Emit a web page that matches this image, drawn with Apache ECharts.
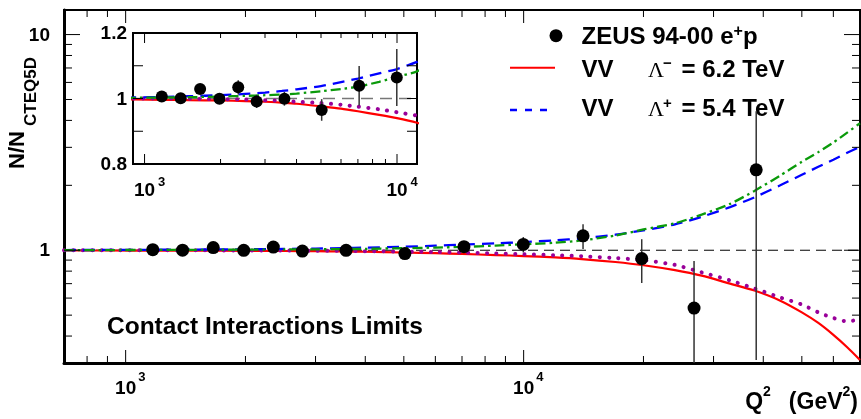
<!DOCTYPE html>
<html>
<head>
<meta charset="utf-8">
<script src="https://cdn.jsdelivr.net/npm/echarts@6/dist/echarts.min.js"></script>
<style>
  html, body { margin: 0; padding: 0; background: #fff; }
  #chart { width: 861px; height: 419px; }
</style>
</head>
<body>
<div id="chart"></div>
<script>
// ZEUS 94-00 e+p measured ratio
const dataQ2 = [1170, 1390, 1660, 1980, 2350, 2780, 3580, 5030, 7080, 9980, 14100, 19800, 26800, 38400];
const dataRatio = [1.006, 1.001, 1.029, 0.999, 1.034, 0.991, 0.999, 0.965, 1.039, 1.064, 1.166, 0.915, 0.539, 2.36];
const dataErr = [0.012, 0.013, 0.015, 0.016, 0.022, 0.02, 0.021, 0.033, 0.06, 0.087, 0.153, 0.21, 0.353, 2.05];

// model curves
const curveQ2 = [700, 900, 1200, 1500, 2000, 2500, 3000, 3500, 4000, 5000, 6000, 7000, 8500, 10000, 12000,
  14000, 17000, 20000, 24000, 28000, 33000, 38000, 44000, 50000, 55000, 60000, 65000, 70000];
const vvMinus = [0.997, 0.997, 0.996, 0.995, 0.994, 0.992, 0.990, 0.987, 0.984, 0.976, 0.969, 0.961, 0.950, 0.940, 0.926,
  0.910, 0.882, 0.852, 0.808, 0.762, 0.700, 0.650, 0.585, 0.515, 0.460, 0.405, 0.355, 0.310];
const vvPlus = [1.002, 1.003, 1.005, 1.007, 1.010, 1.014, 1.018, 1.023, 1.028, 1.038, 1.050, 1.061, 1.077, 1.090, 1.112,
  1.135, 1.180, 1.237, 1.318, 1.429, 1.585, 1.758, 1.995, 2.239, 2.438, 2.630, 2.830, 3.020];
const greenCurve = [1.001, 1.002, 1.003, 1.004, 1.006, 1.008, 1.010, 1.012, 1.015, 1.022, 1.029, 1.036, 1.051, 1.066, 1.083,
  1.110, 1.170, 1.248, 1.334, 1.462, 1.640, 1.884, 2.213, 2.570, 2.850, 3.160, 3.510, 3.880];
const purpleCurve = [1.000, 1.000, 1.000, 0.999, 0.998, 0.997, 0.995, 0.993, 0.990, 0.986, 0.981, 0.975, 0.967, 0.958, 0.948,
  0.938, 0.920, 0.899, 0.855, 0.790, 0.725, 0.665, 0.605, 0.560, 0.515, 0.485, 0.468, 0.478];

// axis ranges and ticks
const mainX = [700, 70000];
const mainY = [0.3, 13];
const insetX = [900, 12000];
const insetY = [0.8, 1.2];
const refLevel = 1;

const mainXMajor = [1000, 10000];
const mainXMinor = [800, 900, 2000, 3000, 4000, 5000, 6000, 7000, 8000, 9000, 20000, 30000, 40000, 50000, 60000];
const mainYMajor = [1, 10];
const mainYMinor = [0.4, 0.5, 0.6, 0.7, 0.8, 0.9, 2, 3, 4, 5, 6, 7, 8, 9];
const insetXMajor = [1000, 10000];
const insetXMinor = [2000, 3000, 4000, 5000, 6000, 7000, 8000, 9000];
const insetYTicks = [0.9, 1.0, 1.1];

const xLabelBase = ['10', '10'];
const xLabelExp = ['3', '4'];
const mainYLabels = ['1', '10'];
const insetYLabelVals = [0.8, 1.0, 1.2];
const insetYLabels = ['0.8', '1', '1.2'];

const FONT = '"Liberation Sans", Arial, Helvetica, sans-serif';
const bold = (s) => 'bold ' + s + 'px ' + FONT;

function txt(x, y, text, font, align, extra) {
  return Object.assign({
    type: 'text', x: x, y: y,
    style: { text: text, font: font, fill: '#000', align: align || 'left', textAlign: align || 'left',
      verticalAlign: 'middle', textVerticalAlign: 'middle' }
  }, extra || {});
}

const mctx = document.createElement('canvas').getContext('2d');
function pieces(x0, list, alignRight) {
  const w = list.map(p => { mctx.font = p.font; return mctx.measureText(p.t).width + (p.gap || 0); });
  let x = alignRight ? x0 - w.reduce((a, b) => a + b, 0) : x0;
  return list.map((p, i) => { const el = txt(x, p.cy, p.t, p.font, 'left'); x += w[i]; return el; });
}

function seg(x1, y1, x2, y2, w) {
  return { type: 'line', shape: { x1: x1, y1: y1, x2: x2, y2: y2 }, style: { stroke: '#000', lineWidth: w || 1 } };
}

// ticks along x (bottom + mirrored top)
function xTicks(idx, vals, len, yr) {
  return {
    type: 'custom', xAxisIndex: idx, yAxisIndex: idx, silent: true, clip: false, z: 6,
    data: vals.map(v => [v, yr[0]]),
    renderItem: (p, api) => {
      const lo = api.coord([api.value(0), yr[0]]);
      const hi = api.coord([api.value(0), yr[1]]);
      return { type: 'group', children: [seg(lo[0], lo[1], lo[0], lo[1] - len), seg(hi[0], hi[1], hi[0], hi[1] + len)] };
    }
  };
}
// ticks along y (left + mirrored right)
function yTicks(idx, vals, len, xr) {
  return {
    type: 'custom', xAxisIndex: idx, yAxisIndex: idx, silent: true, clip: false, z: 6,
    data: vals.map(v => [xr[0], v]),
    renderItem: (p, api) => {
      const l = api.coord([xr[0], api.value(1)]);
      const r = api.coord([xr[1], api.value(1)]);
      return { type: 'group', children: [seg(l[0], l[1], l[0] + len, l[1]), seg(r[0], r[1], r[0] - len, r[1])] };
    }
  };
}
function xLabels(idx, vals, yr, dy, supDx, supDy) {
  return {
    type: 'custom', xAxisIndex: idx, yAxisIndex: idx, silent: true, clip: false, z: 6,
    data: vals.map(v => [v, yr[0]]),
    renderItem: (p, api) => {
      const c = api.coord([api.value(0), yr[0]]);
      return { type: 'group', children: [
        txt(c[0], c[1] + dy, xLabelBase[p.dataIndex], bold(19), 'center'),
        txt(c[0] + supDx, c[1] + supDy, xLabelExp[p.dataIndex], bold(13), 'left')
      ] };
    }
  };
}
function yLabels(idx, vals, labels, xr, dx, size) {
  return {
    type: 'custom', xAxisIndex: idx, yAxisIndex: idx, silent: true, clip: false, z: 6,
    data: vals.map(v => [xr[0], v]),
    renderItem: (p, api) => {
      const c = api.coord([xr[0], api.value(1)]);
      return txt(c[0] - dx, c[1] + 1, labels[p.dataIndex], bold(size), 'right');
    }
  };
}
function errorBars(idx, xr, yr) {
  return {
    type: 'custom', xAxisIndex: idx, yAxisIndex: idx, silent: true, clip: false, z: 8,
    data: dataQ2.map((q, i) => [q, dataRatio[i], dataErr[i]]),
    renderItem: (p, api) => {
      const q = api.value(0);
      if (q < xr[0] || q > xr[1]) return;
      const lo = Math.max(api.value(1) - api.value(2), yr[0]);
      const hi = Math.min(api.value(1) + api.value(2), yr[1]);
      if (hi <= lo) return;
      const a = api.coord([q, lo]), b = api.coord([q, hi]);
      return { type: 'line', shape: { x1: a[0], y1: a[1], x2: b[0], y2: b[1] }, style: { stroke: '#333', lineWidth: 1.5 } };
    }
  };
}
function curve(idx, vals, style) {
  return {
    type: 'line', xAxisIndex: idx, yAxisIndex: idx, showSymbol: false, silent: true, clip: true, z: 4,
    smooth: 0.25, data: curveQ2.map((q, i) => [q, vals[i]]), lineStyle: style
  };
}
function refLine(idx, xr, style) {
  return {
    type: 'line', xAxisIndex: idx, yAxisIndex: idx, showSymbol: false, silent: true, clip: true, z: 3,
    data: [[xr[0], refLevel], [xr[1], refLevel]], lineStyle: style
  };
}
function points(idx, size) {
  return {
    type: 'scatter', xAxisIndex: idx, yAxisIndex: idx, symbol: 'circle', symbolSize: size, clip: true, z: 9,
    itemStyle: { color: '#000', opacity: 1 }, data: dataQ2.map((q, i) => [q, dataRatio[i]])
  };
}

const redStyle = { color: '#ff0000', width: 2.2, type: 'solid' };
const blueStyle = { color: '#0000ff', width: 2.3, type: [12, 7] };
const greenStyle = { color: '#0a9a0a', width: 2.3, type: [10, 4, 2.5, 4] };
const purpleStyle = { color: '#990099', width: 4, type: [0.1, 9.3], cap: 'round' };

const hiddenAxis = (type, gi, range, lineW) => ({
  type: type, gridIndex: gi, min: range[0], max: range[1],
  axisLine: lineW ? { show: true, lineStyle: { color: '#000', width: lineW } } : { show: false },
  axisTick: { show: false }, axisLabel: { show: false }, splitLine: { show: false }
});

const option = {
  animation: false,
  backgroundColor: '#fff',
  grid: [
    { left: 64, top: 10, right: 1, bottom: 56, show: true, borderColor: '#000', borderWidth: 2, backgroundColor: '#fff' },
    { left: 133, top: 33, width: 284, height: 131, show: true, borderColor: '#000', borderWidth: 2, backgroundColor: '#fff' }
  ],
  xAxis: [hiddenAxis('log', 0, mainX, 3), hiddenAxis('log', 1, insetX)],
  yAxis: [hiddenAxis('log', 0, mainY, 3), hiddenAxis('value', 1, insetY)],
  series: [
    refLine(0, mainX, { color: '#000', width: 1, type: [10, 6] }),
    curve(0, vvMinus, redStyle),
    curve(0, purpleCurve, purpleStyle),
    curve(0, vvPlus, blueStyle),
    curve(0, greenCurve, greenStyle),
    errorBars(0, mainX, mainY),
    points(0, 13),
    xTicks(0, mainXMajor, 13, mainY),
    xTicks(0, mainXMinor, 7, mainY),
    yTicks(0, mainYMajor, 16, mainX),
    yTicks(0, mainYMinor, 8, mainX),
    xLabels(0, mainXMajor, mainY, 26, 12.5, 14),
    yLabels(0, mainYMajor, mainYLabels, mainX, 14, 19),

    refLine(1, insetX, { color: '#777', width: 1.5, type: [12, 7] }),
    curve(1, vvMinus, redStyle),
    curve(1, purpleCurve, purpleStyle),
    curve(1, vvPlus, blueStyle),
    curve(1, greenCurve, greenStyle),
    errorBars(1, insetX, insetY),
    points(1, 12),
    xTicks(1, insetXMajor, 10, insetY),
    xTicks(1, insetXMinor, 5, insetY),
    yTicks(1, insetYTicks, 10, insetX),
    xLabels(1, insetXMajor, insetY, 27, 13.5, 18),
    yLabels(1, insetYLabelVals, insetYLabels, insetX, 6, 19)
  ],
  graphic: [].concat(
    [
      txt(17.5, 150, 'N/N', bold(22), 'center', { rotation: Math.PI / 2 }),
      txt(31.5, 91.5, 'CTEQ5D', bold(17), 'center', { rotation: Math.PI / 2 }),
      txt(107, 327, 'Contact Interactions Limits', bold(24.5), 'left'),
      { type: 'circle', shape: { cx: 556, cy: 35.7, r: 6.5 }, style: { fill: '#000' } },
      { type: 'line', shape: { x1: 510, y1: 67.7, x2: 555, y2: 67.7 }, style: { stroke: '#ff0000', lineWidth: 2 } },
      { type: 'line', shape: { x1: 510, y1: 110, x2: 555, y2: 110 }, style: { stroke: '#0000ff', lineWidth: 2.3, lineDash: [7, 8] } },
      txt(581.5, 70, 'VV', bold(24), 'left'),
      txt(581.5, 109, 'VV', bold(24), 'left'),
      txt(648, 71.5, '\u039B', '22px "Liberation Serif", "Times New Roman", serif', 'left'),
      txt(648, 110.5, '\u039B', '22px "Liberation Serif", "Times New Roman", serif', 'left'),
      txt(663, 64, '\u2212', bold(15), 'left'),
      txt(663, 104, '+', bold(15), 'left'),
      txt(681.5, 70, '= 6.2 TeV', bold(24), 'left'),
      txt(681.5, 109, '= 5.4 TeV', bold(24), 'left')
    ],
    pieces(581.5, [
      { t: 'ZEUS 94-00 e', font: bold(24), cy: 37 },
      { t: '+', font: bold(16), cy: 31.5 },
      { t: 'p', font: bold(24), cy: 37 }
    ], false),
    pieces(858, [
      { t: 'Q', font: bold(23), cy: 402.5 },
      { t: '2', font: bold(14), cy: 392.5, gap: 18 },
      { t: '(GeV', font: bold(23), cy: 402.5 },
      { t: '2', font: bold(14), cy: 392.5 },
      { t: ')', font: bold(23), cy: 402.5 }
    ], true)
  )
};

const chart = echarts.init(document.getElementById('chart'), null, { renderer: 'canvas' });
chart.setOption(option);
</script>
</body>
</html>
